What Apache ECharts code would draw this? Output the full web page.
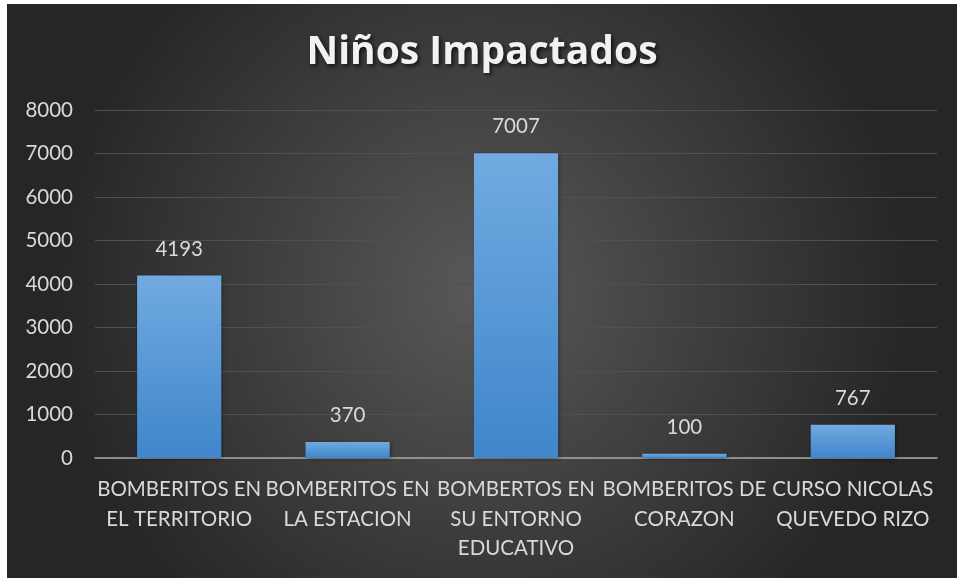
<!DOCTYPE html>
<html><head><meta charset="utf-8">
<script src="https://cdn.jsdelivr.net/npm/echarts@6/dist/echarts.min.js"></script>
<style>html,body{margin:0;padding:0;background:#fff;width:957px;height:578px;overflow:hidden}
#c{position:absolute;left:7px;top:4px;width:950px;height:574px}</style>
</head><body><div id="c"></div>
<script>
const titleText = 'Niños Impactados';
const categories = ['BOMBERITOS EN\nEL TERRITORIO','BOMBERITOS EN\nLA ESTACION','BOMBERTOS EN\nSU ENTORNO\nEDUCATIVO','BOMBERITOS DE\nCORAZON','CURSO NICOLAS\nQUEVEDO RIZO'];
const values = [4193, 370, 7007, 100, 767];
const yTicks = [0, 1000, 8000];

const chart = echarts.init(document.getElementById('c'));
chart.setOption({
  backgroundColor: {type:'radial', x:0.5, y:0.5, r:0.75, colorStops:[{offset:0,color:'#595959'},{offset:1,color:'#262626'}]},
  title: {text: titleText, left: 'center', top: 24,
    textStyle: {color:'#f2f2f2', fontSize:39, fontWeight:'bold', fontFamily:'Open Sans',
      textShadowColor:'rgba(0,0,0,0.7)', textShadowBlur:4, textShadowOffsetX:2, textShadowOffsetY:2}},
  grid: {left: 88, right: 20, top: 106, bottom: 120},
  xAxis: {type:'category', data: categories,
    axisLine:{lineStyle:{color:'#a6a6a6', width:1.5}}, axisTick:{show:false},
    axisLabel:{color:'#d9d9d9', fontSize:20.5, fontFamily:'Lato', lineHeight:29.5, margin:17, interval:0}},
  yAxis: {type:'value', min: yTicks[0], max: yTicks[2], interval: yTicks[1],
    axisLine:{show:false}, axisTick:{show:false},
    splitLine:{lineStyle:{color:'#505050', width:1}},
    axisLabel:{color:'#d9d9d9', fontSize:20.5, fontFamily:'Lato', margin:22, formatter: v => String(v)}},
  series: [{type:'bar', data: values, barWidth:'50%',
    itemStyle:{color:{type:'linear',x:0,y:0,x2:0,y2:1,colorStops:[{offset:0,color:'#71aae0'},{offset:1,color:'#3f86cb'}]},
      shadowColor:'rgba(0,0,0,0.4)', shadowBlur:4, shadowOffsetX:1, shadowOffsetY:1},
    label:{show:true, position:'top', distance:16, color:'#d9d9d9', fontSize:20.5, fontFamily:'Lato'}}]
});
</script></body></html>
